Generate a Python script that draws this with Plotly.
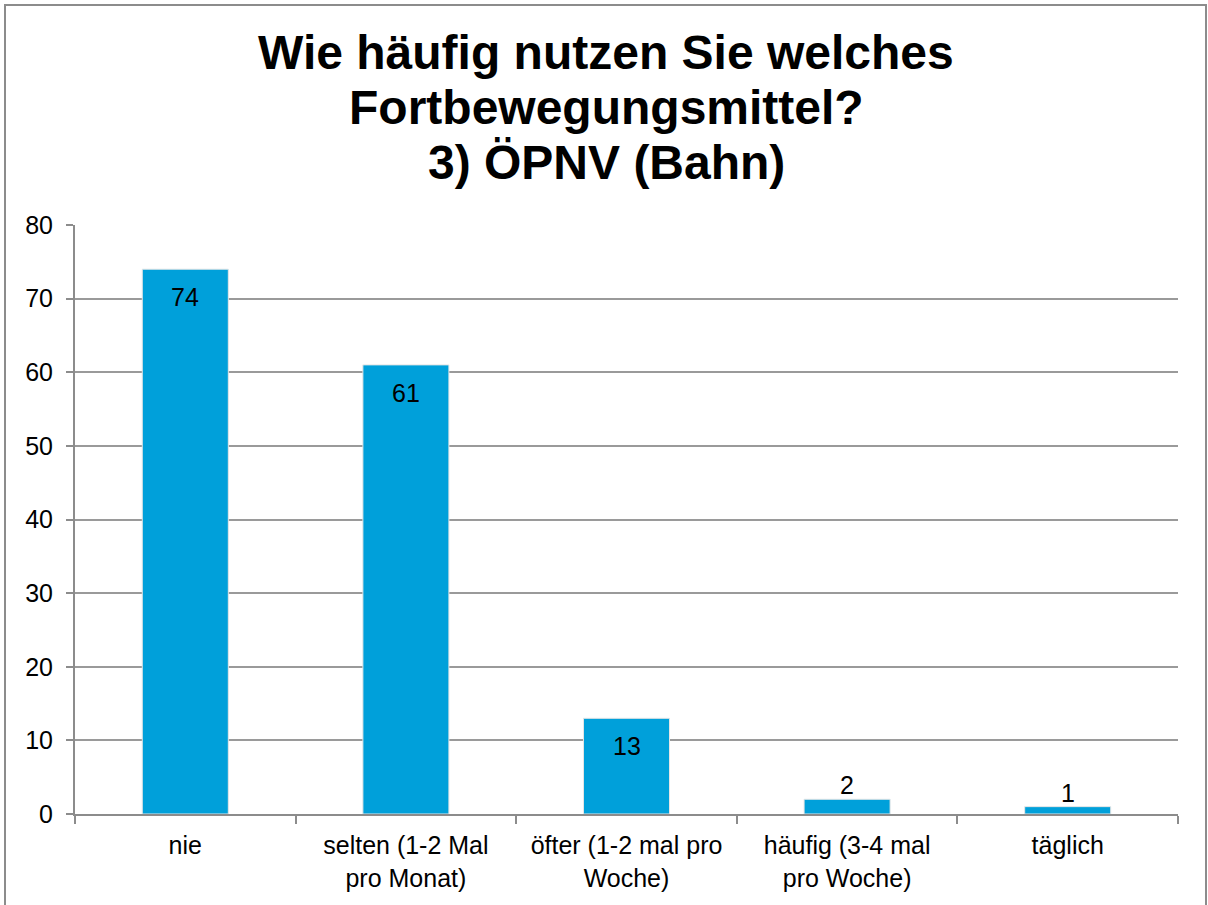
import plotly.graph_objects as go

categories = ["nie", "selten (1-2 Mal<br>pro Monat)", "öfter (1-2 mal pro<br>Woche)",
              "häufig (3-4 mal<br>pro Woche)", "täglich"]
values = [74, 61, 13, 2, 1]
label_inside = [True, True, True, False, False]
y_ticks = [0, 10, 20, 30, 40, 50, 60, 70, 80]
title_lines = ["Wie häufig nutzen Sie welches", "Fortbewegungsmittel?", "3) ÖPNV (Bahn)"]

W, H = 1208, 905
L, R, T, B = 75, 30, 225, 91
pw, ph = W - L - R, H - T - B
FONT = "Liberation Sans, Arial"
TXT = 25


def py(px):
    """pixel row from the top -> paper y"""
    return (H - B - px) / ph


def pxx(px):
    """pixel column from the left -> paper x"""
    return (px - L) / pw


fig = go.Figure(go.Bar(
    x=categories, y=values, width=0.39,
    marker=dict(color="#00A0DA", line=dict(color="#E6E6E6", width=1)),
    hoverinfo="x+y",
))

# value labels: inside near the top for tall bars, just above for short ones
for cat, val, inside in zip(categories, values, label_inside):
    fig.add_annotation(x=cat, y=val, text=str(val), showarrow=False,
                       xref="x", yref="y", yanchor="middle",
                       yshift=-28 if inside else 14,
                       font=dict(family=FONT, size=TXT, color="black"))

# three-line title, centred on the whole figure
for i, line in enumerate(title_lines):
    fig.add_annotation(x=pxx(606), xref="paper", xanchor="center",
                       y=py(52 + 55 * i), yref="paper", yanchor="middle",
                       text=line, showarrow=False,
                       font=dict(family=FONT, size=48, color="black", weight="bold"))

# outer frame around the whole chart
fig.add_shape(type="rect", xref="paper", yref="paper",
              x0=pxx(5), x1=pxx(1206), y0=py(915), y1=py(5),
              line=dict(color="#8C8C8C", width=2), fillcolor="rgba(0,0,0,0)", layer="below")

fig.update_layout(
    width=W, height=H, margin=dict(l=L, r=R, t=T, b=B),
    paper_bgcolor="white", plot_bgcolor="white", showlegend=False,
    font=dict(family=FONT, size=TXT, color="black"),
)
fig.update_xaxes(showline=True, linecolor="#8C8C8C", linewidth=2,
                 ticks="outside", tickson="boundaries", ticklen=8, tickcolor="#8C8C8C", tickwidth=2,
                 ticklabelstandoff=8, tickfont=dict(size=TXT), showgrid=False)
fig.update_yaxes(range=[0, 80], tickvals=y_ticks, showline=True, linecolor="#8C8C8C", linewidth=2,
                 ticks="outside", ticklen=7, tickcolor="#8C8C8C", tickwidth=2,
                 ticklabelstandoff=8,
                 showgrid=True, gridcolor="#9A9A9A", gridwidth=1.5, zeroline=False,
                 tickfont=dict(size=TXT))

fig.write_html("out.html")
